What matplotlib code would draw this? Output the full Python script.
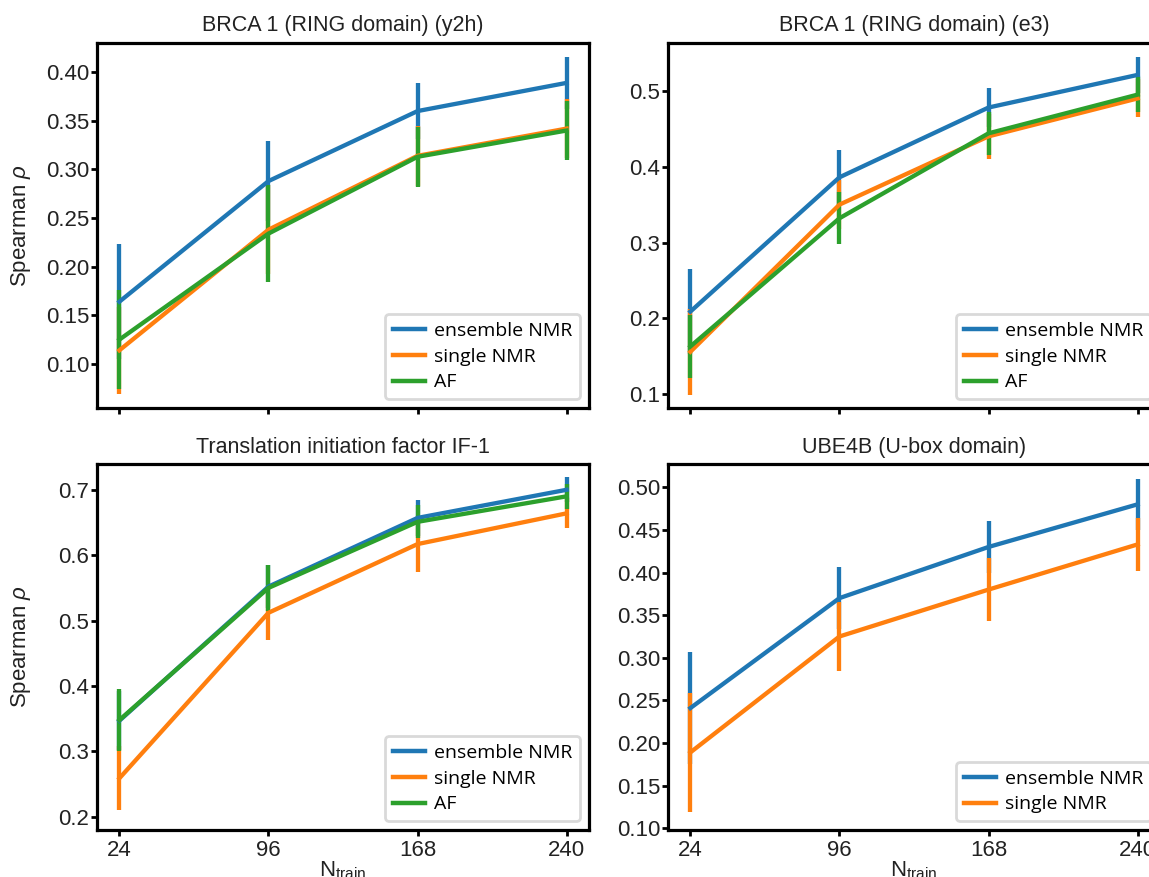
import matplotlib
matplotlib.use("Agg")
import matplotlib.pyplot as plt
from matplotlib.lines import Line2D
import numpy as np

plt.rcParams['font.family'] = ['Liberation Sans', 'DejaVu Sans']
plt.rcParams['mathtext.fontset'] = 'custom'
plt.rcParams['mathtext.rm'] = 'Liberation Sans'
plt.rcParams['mathtext.it'] = 'Liberation Sans:italic'

n_train = [24, 96, 168, 240]
series_names = ["ensemble NMR", "single NMR", "AF"]
colors = ["#1f77b4", "#ff7f0e", "#2ca02c"]

titles = ["BRCA 1 (RING domain) (y2h)", "BRCA 1 (RING domain) (e3)",
          "Translation initiation factor IF-1", "UBE4B (U-box domain)"]

# BRCA1 y2h
y2h_ens = [0.164, 0.288, 0.360, 0.389]
y2h_ens_err = [0.059, 0.041, 0.029, 0.027]
y2h_single = [0.114, 0.238, 0.314, 0.342]
y2h_single_err = [0.045, 0.046, 0.031, 0.030]
y2h_af = [0.125, 0.234, 0.313, 0.340]
y2h_af_err = [0.051, 0.050, 0.031, 0.030]

# BRCA1 e3
e3_ens = [0.209, 0.386, 0.478, 0.521]
e3_ens_err = [0.056, 0.036, 0.026, 0.024]
e3_single = [0.156, 0.350, 0.440, 0.490]
e3_single_err = [0.057, 0.032, 0.030, 0.025]
e3_af = [0.163, 0.332, 0.444, 0.495]
e3_af_err = [0.042, 0.034, 0.028, 0.023]

# IF-1
if1_ens = [0.347, 0.552, 0.657, 0.700]
if1_ens_err = [0.045, 0.033, 0.027, 0.019]
if1_single = [0.259, 0.512, 0.617, 0.664]
if1_single_err = [0.049, 0.041, 0.043, 0.023]
if1_af = [0.348, 0.550, 0.651, 0.690]
if1_af_err = [0.048, 0.035, 0.025, 0.019]

# UBE4B
ube_ens = [0.241, 0.370, 0.430, 0.480]
ube_ens_err = [0.066, 0.036, 0.030, 0.030]
ube_single = [0.189, 0.325, 0.380, 0.433]
ube_single_err = [0.070, 0.041, 0.037, 0.031]

panels = [
    ([y2h_ens, y2h_single, y2h_af], [y2h_ens_err, y2h_single_err, y2h_af_err],
     (0.0547, 0.4305), [0.10, 0.15, 0.20, 0.25, 0.30, 0.35, 0.40], "{:.2f}"),
    ([e3_ens, e3_single, e3_af], [e3_ens_err, e3_single_err, e3_af_err],
     (0.0819, 0.5637), [0.1, 0.2, 0.3, 0.4, 0.5], "{:.1f}"),
    ([if1_ens, if1_single, if1_af], [if1_ens_err, if1_single_err, if1_af_err],
     (0.180, 0.7394), [0.2, 0.3, 0.4, 0.5, 0.6, 0.7], "{:.1f}"),
    ([ube_ens, ube_single], [ube_ens_err, ube_single_err],
     (0.098, 0.5273), [0.10, 0.15, 0.20, 0.25, 0.30, 0.35, 0.40, 0.45, 0.50], "{:.2f}"),
]

W, H = 1149, 877
fig = plt.figure(figsize=(W / 100, H / 100), dpi=100)

boxes = [
    (97, 589, 42.5, 408),
    (668, 1160, 42.5, 408),
    (97, 589, 464, 830),
    (668, 1160, 464, 830),
]

text_color = "#222222"
for i, (vals, errs, ylim, yticks, fmt) in enumerate(panels):
    x0, x1, yt, yb = boxes[i]
    ax = fig.add_axes([x0 / W, 1 - yb / H, (x1 - x0) / W, (yb - yt) / H])
    for j, (v, e) in enumerate(zip(vals, errs)):
        ax.errorbar(n_train, v, yerr=e, color=colors[j], lw=3.1, elinewidth=3.1,
                    capsize=0)
    ax.set_xlim(n_train[0] - 0.05 * 216, n_train[-1] + 0.05 * 216)
    ax.set_ylim(*ylim)
    ax.set_xticks(n_train)
    ax.set_yticks(yticks)
    ax.set_yticklabels([fmt.format(t) for t in yticks])
    ax.tick_params(axis='both', direction='out', length=4, width=2,
                   labelsize=16, labelcolor=text_color, pad=1.5)
    ax.tick_params(axis='x', pad=3)
    if i < 2:
        ax.tick_params(axis='x', labelbottom=False)
    for s in ax.spines.values():
        s.set_linewidth(2.3)
        s.set_color('black')
    ax.set_title(titles[i], fontsize=15.5, color=text_color, pad=8)
    if i % 2 == 0:
        ax.set_ylabel(r'Spearman $\rho$', fontsize=16, color=text_color)
        ax.yaxis.set_label_coords(-0.13, 0.5)
    if i >= 2:
        ax.set_xlabel(r'N$_\mathregular{train}$', fontsize=16, color=text_color, labelpad=-1)
    handles = [Line2D([], [], color=colors[j], lw=3.2) for j in range(len(vals))]
    leg = ax.legend(handles, series_names[:len(vals)], loc='lower right',
                    frameon=True, fancybox=True,
                    edgecolor='#d9d9d9', framealpha=1, handlelength=1.65,
                    borderaxespad=0.45, labelspacing=0.4, handletextpad=0.45,
                    borderpad=0.4,
                    prop={'family': 'Open Sans', 'size': 14})
    leg.get_frame().set_linewidth(2)

fig.savefig("out.png", dpi=100)
